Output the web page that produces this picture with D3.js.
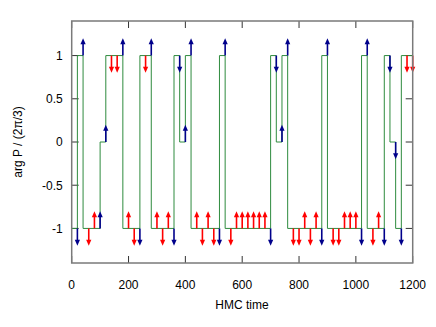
<!DOCTYPE html>
<html>
<head>
<meta charset="utf-8">
<script src="https://cdn.jsdelivr.net/npm/d3@7"></script>
<style>
  body { margin: 0; background: #fff; }
  svg { display: block; font-family: "Liberation Sans", Arial, sans-serif; }
</style>
</head>
<body>
<div id="chart"></div>
<script>
// step history of arg P (in units of 2pi/3)
var stepTimes  = [0, 20, 40, 100, 120, 180, 240, 280, 360, 380, 400, 420, 520, 540,
                  700, 720, 740, 760, 880, 900, 1020, 1040, 1100, 1120, 1140, 1160, 1200];
var stepLevels = [-1, 1, -1, 0, 1, -1, 1, -1, 1, 0, 1, -1, 1, -1,
                  1, 0, 1, -1, 1, -1, 1, -1, 1, 0, -1, 1, 1];

// proposals every 20 trajectories: level, direction (+1 up / -1 down), accepted?
var arrowTimes  = [20, 40, 60, 80, 100, 120, 140, 160, 180, 200,
                   220, 240, 260, 280, 300, 320, 340, 360, 380, 400,
                   420, 440, 460, 480, 500, 520, 540, 560, 580, 600,
                   620, 640, 660, 680, 700, 720, 740, 760, 780, 800,
                   820, 840, 860, 880, 900, 920, 940, 960, 980, 1000,
                   1020, 1040, 1060, 1080, 1100, 1120, 1140, 1160, 1180, 1200];
var arrowLevels = [-1, 1, -1, -1, -1, 0, 1, 1, 1, -1,
                   -1, -1, 1, 1, -1, -1, -1, -1, 1, 0,
                   1, -1, -1, -1, -1, -1, 1, -1, -1, -1,
                   -1, -1, -1, -1, -1, 1, 0, 1, -1, -1,
                   -1, -1, -1, -1, 1, -1, -1, -1, -1, -1,
                   -1, 1, -1, -1, -1, 1, 0, -1, 1, 1];
var arrowDirs   = [-1, 1, -1, 1, 1, 1, -1, -1, 1, 1,
                   -1, -1, -1, 1, 1, -1, 1, -1, -1, 1,
                   1, 1, -1, 1, -1, -1, 1, -1, 1, 1,
                   1, 1, 1, 1, -1, -1, 1, 1, -1, -1,
                   1, -1, 1, -1, 1, -1, -1, 1, 1, 1,
                   -1, 1, -1, 1, -1, -1, -1, -1, -1, -1];
var arrowAccepted = [1, 1, 0, 0, 1, 1, 0, 0, 1, 0,
                     0, 1, 0, 1, 0, 0, 0, 1, 1, 1,
                     1, 0, 0, 0, 0, 1, 1, 0, 0, 0,
                     0, 0, 0, 0, 1, 1, 1, 1, 0, 0,
                     0, 0, 0, 1, 1, 0, 0, 0, 0, 0,
                     1, 1, 0, 0, 1, 1, 1, 1, 0, 0];

var xTicks = [0, 200, 400, 600, 800, 1000, 1200];
var yTicks = [-1, -0.5, 0, 0.5, 1];

var margin = {top: 21, right: 23.3, bottom: 64, left: 71.7};
var width = 436 - margin.left - margin.right;
var height = 327 - margin.top - margin.bottom;

var x = d3.scaleLinear().domain([0, 1200]).range([0, width]);
var y = d3.scaleLinear().domain([-1.4, 1.4]).range([height, 0]);

var svg = d3.select("#chart").append("svg")
    .attr("width", 436)
    .attr("height", 327);

var g = svg.append("g")
    .attr("transform", "translate(" + margin.left + "," + margin.top + ")");

// ticks on all four sides, pointing inwards
var tickLen = 7;
g.selectAll(".xt").data(xTicks).enter().append("line")
    .attr("x1", function(d) { return x(d); }).attr("x2", function(d) { return x(d); })
    .attr("y1", height).attr("y2", height - tickLen)
    .attr("stroke", "#333").attr("stroke-width", 1);
g.selectAll(".xtt").data(xTicks).enter().append("line")
    .attr("x1", function(d) { return x(d); }).attr("x2", function(d) { return x(d); })
    .attr("y1", 0).attr("y2", tickLen)
    .attr("stroke", "#333").attr("stroke-width", 1);
g.selectAll(".yt").data(yTicks).enter().append("line")
    .attr("x1", 0).attr("x2", tickLen)
    .attr("y1", function(d) { return y(d); }).attr("y2", function(d) { return y(d); })
    .attr("stroke", "#333").attr("stroke-width", 1);
g.selectAll(".ytr").data(yTicks).enter().append("line")
    .attr("x1", width).attr("x2", width - tickLen)
    .attr("y1", function(d) { return y(d); }).attr("y2", function(d) { return y(d); })
    .attr("stroke", "#333").attr("stroke-width", 1);

// tick labels
g.selectAll(".xl").data(xTicks).enter().append("text")
    .attr("x", function(d) { return x(d); })
    .attr("y", height + 25.5)
    .attr("text-anchor", "middle")
    .attr("font-size", 12)
    .attr("fill", "#000")
    .text(function(d) { return d; });
g.selectAll(".yl").data(yTicks).enter().append("text")
    .attr("x", -9)
    .attr("y", function(d) { return y(d) + 4.3; })
    .attr("text-anchor", "end")
    .attr("font-size", 12)
    .attr("fill", "#000")
    .text(function(d) { return d; });

// axis titles
svg.append("text")
    .attr("x", 242).attr("y", 309)
    .attr("text-anchor", "middle").attr("font-size", 12)
    .text("HMC time");
svg.append("text")
    .attr("transform", "translate(22,142) rotate(-90)")
    .attr("text-anchor", "middle").attr("font-size", 12)
    .text("arg P / (2\u03c0/3)");

// step line
var steps = stepTimes.map(function(t, i) { return [t, stepLevels[i]]; });
var line = d3.line()
    .x(function(d) { return x(d[0]); })
    .y(function(d) { return y(d[1]); })
    .curve(d3.curveStepAfter);
g.append("path")
    .datum(steps)
    .attr("d", line)
    .attr("fill", "none")
    .attr("stroke", "#2e8b3e")
    .attr("stroke-width", 1);

// arrows
var arrowLen = 0.2, headLen = 6, headW = 2.6;
var arrows = arrowTimes.map(function(t, i) {
    return {t: t, level: arrowLevels[i], dir: arrowDirs[i], ok: arrowAccepted[i]};
});
var ag = g.selectAll(".arrow").data(arrows).enter().append("g")
    .attr("class", "arrow");
ag.append("line")
    .attr("x1", function(d) { return x(d.t); })
    .attr("x2", function(d) { return x(d.t); })
    .attr("y1", function(d) { return y(d.level); })
    .attr("y2", function(d) { return y(d.level + d.dir * arrowLen) + d.dir * (headLen - 1); })
    .attr("stroke", function(d) { return d.ok ? "#00008b" : "#ff0000"; })
    .attr("stroke-width", 1.6);
ag.append("path")
    .attr("d", function(d) {
        var px = x(d.t), tip = y(d.level + d.dir * arrowLen);
        var base = tip + d.dir * headLen;
        return "M" + px + "," + tip + "L" + (px - headW) + "," + base + "L" + (px + headW) + "," + base + "Z";
    })
    .attr("fill", function(d) { return d.ok ? "#00008b" : "#ff0000"; });

// frame
g.append("rect")
    .attr("x", 0).attr("y", 0)
    .attr("width", width).attr("height", height)
    .attr("fill", "none")
    .attr("stroke", "#7a7a7a")
    .attr("stroke-width", 1.5);
</script>
</body>
</html>
